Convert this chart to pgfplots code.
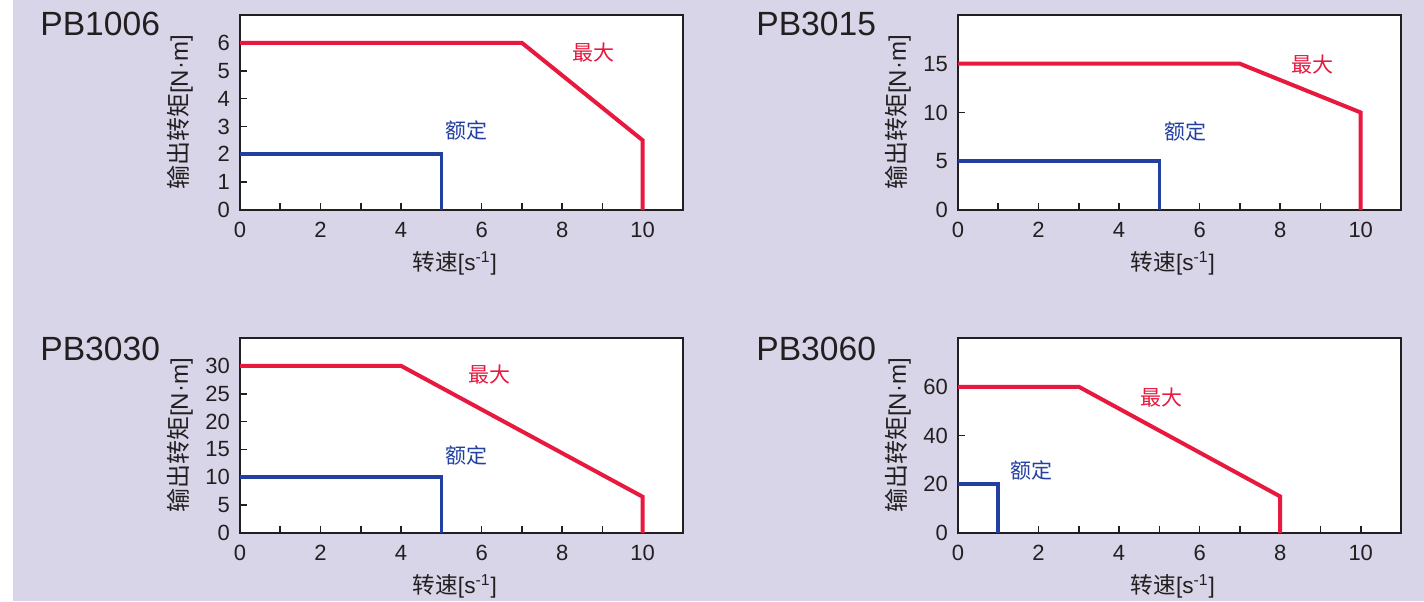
\documentclass[border=0pt]{standalone}
\usepackage{fontspec}
\setmainfont{Liberation Sans}
\newfontfamily\cjk{Noto Sans CJK SC}
\usepackage{pgfplots}
\pgfplotsset{compat=1.18}
\definecolor{bgc}{HTML}{D9D5E8}
\definecolor{maxred}{HTML}{E8193E}
\definecolor{ratedblue}{HTML}{2340A0}
\definecolor{textc}{HTML}{231F20}
\pgfplotsset{pb/.style={
  scale only axis, width=221.5pt, height=97.5pt, anchor=south west,
  xmin=0, xmax=11, ymin=0,
  xtick={0,2,...,10}, minor xtick={1,3,...,9},
  xtick pos=bottom, ytick pos=left, tick align=inside,
  major tick length=3.5pt, minor tick length=3.5pt,
  axis line style={draw=textc, line width=1.1pt},
  every tick/.style={draw=textc, line width=0.8pt},
  axis background/.style={fill=white},
  /pgf/number format/assume math mode=true,
  ticklabel style={font=\fontsize{11}{13}\selectfont, text=textc},
  xticklabel style={yshift=-2.5pt},
  yticklabel style={xshift=-1.5pt},
  xlabel={{\cjk 转速}[s\textsuperscript{-1}]},
  ylabel={{\cjk 输出转矩}[N·m]},
  label style={text=textc},
  xlabel style={font=\fontsize{11.3}{13}\selectfont, at={(axis description cs:0.485,-0.272)}, anchor=center},
  ylabel style={font=\fontsize{12}{14}\selectfont, at={(axis description cs:-0.135,0.5)}, anchor=center},
  },
  maxl/.style={maxred, line width=2pt, line join=miter},
  ratl/.style={ratedblue, line width=1.8pt, line join=miter},
}
\tikzset{
  maxt/.style={text=maxred, font=\fontsize{10.5}{12}\selectfont\cjk},
  ratt/.style={text=ratedblue, font=\fontsize{10.5}{12}\selectfont\cjk},
  ttl/.style={anchor=base west, font=\fontsize{16.8}{19}\selectfont, text=textc, inner sep=0pt},
}
\begin{document}
\begin{tikzpicture}
\useasboundingbox (0,0) rectangle (712pt,300.5pt);
\fill[white] (0,0) rectangle (6.5pt,300.5pt);
\fill[bgc] (6.5pt,0) rectangle (712pt,300.5pt);
\node[ttl] at (20pt,282.5pt) {PB1006};
\node[ttl] at (378pt,282.5pt) {PB3015};
\node[ttl] at (20pt,120.5pt) {PB3030};
\node[ttl] at (378pt,120.5pt) {PB3060};

\begin{axis}[pb, at={(120pt,195.5pt)}, ymax=7, ytick={0,1,...,6}]
\addplot[maxl] coordinates {(0,6) (7,6) (10,2.5) (10,0)};
\addplot[ratl] coordinates {(0,2) (5,2) (5,0)};
\node[maxt] at (axis cs:8.78,5.65) {最大};
\node[ratt] at (axis cs:5.63,2.84) {额定};
\end{axis}

\begin{axis}[pb, at={(479pt,195.5pt)}, ymax=20, ytick={0,5,10,15}]
\addplot[maxl] coordinates {(0,15) (7,15) (10,10) (10,0)};
\addplot[ratl] coordinates {(0,5) (5,5) (5,0)};
\node[maxt] at (axis cs:8.8,14.9) {最大};
\node[ratt] at (axis cs:5.65,8.1) {额定};
\end{axis}

\begin{axis}[pb, at={(120pt,34pt)}, ymax=35, ytick={0,5,...,30}]
\addplot[maxl] coordinates {(0,30) (4,30) (10,6.5) (10,0)};
\addplot[ratl] coordinates {(0,10) (5,10) (5,0)};
\node[maxt] at (axis cs:6.2,28.5) {最大};
\node[ratt] at (axis cs:5.63,14.0) {额定};
\end{axis}

\begin{axis}[pb, at={(479pt,34pt)}, ymax=80, ytick={0,20,40,60}]
\addplot[maxl] coordinates {(0,60) (3,60) (8,15) (8,0)};
\addplot[ratl] coordinates {(0,20) (1,20) (1,0)};
\node[maxt] at (axis cs:5.05,55.5) {最大};
\node[ratt] at (axis cs:1.82,25.7) {额定};
\end{axis}
\end{tikzpicture}
\end{document}
